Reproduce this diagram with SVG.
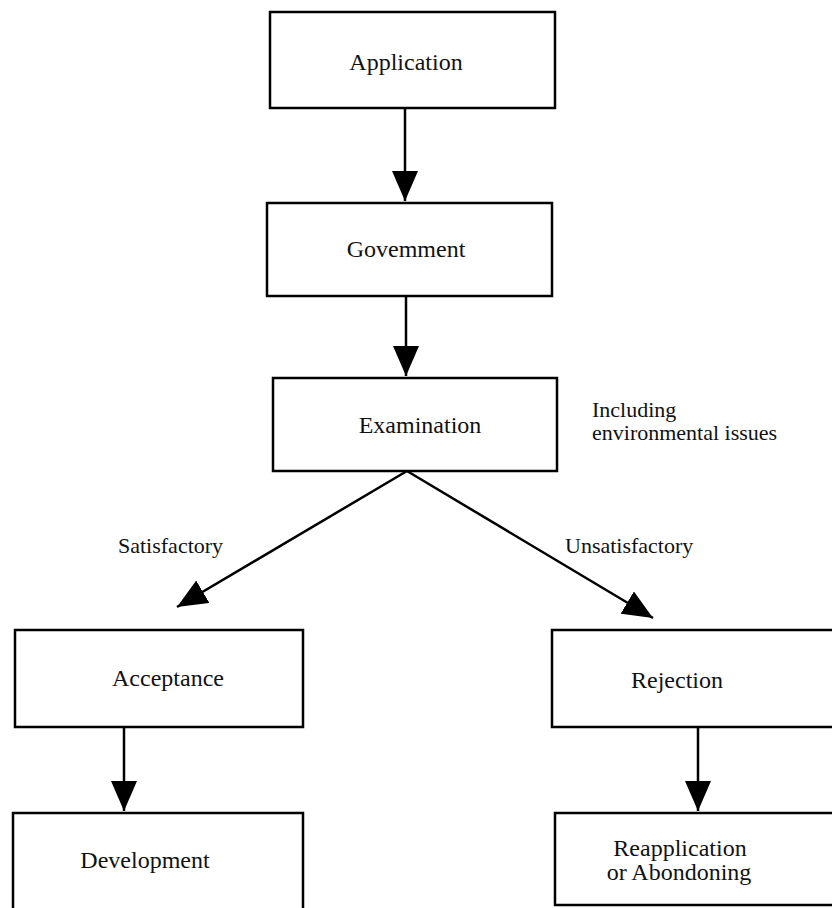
<svg xmlns="http://www.w3.org/2000/svg" width="832" height="908" viewBox="0 0 832 908">
<style>
.box{fill:none;stroke:#000;stroke-width:2.5}
.t{font-family:"Liberation Serif","Times New Roman",serif;font-size:24px;fill:#111;text-anchor:middle}
.lbl{font-family:"Liberation Serif","Times New Roman",serif;font-size:22px;fill:#111}
.c{fill:none;stroke:#000;stroke-width:2.5}
</style>
<defs>
<marker id="ah" markerUnits="userSpaceOnUse" markerWidth="30" markerHeight="26" viewBox="0 0 30 26" refX="30" refY="13" orient="auto">
<path d="M0,0 L30,13 L0,26 z" fill="#000"/>
</marker>
</defs>
<rect width="832" height="908" fill="#fff"/>
<g id="application"><rect class="box" x="270" y="12" width="285" height="96"/><text class="t" x="406" y="70">Application</text></g>
<g id="government"><rect class="box" x="267" y="203" width="285" height="93"/><text class="t" x="406" y="257">Govemment</text></g>
<g id="examination"><rect class="box" x="273" y="378" width="284" height="93"/><text class="t" x="420" y="433">Examination</text></g>
<g id="note"><text class="lbl" x="592" y="417">Including</text><text class="lbl" x="592" y="440">environmental issues</text></g>
<g id="acceptance"><rect class="box" x="15" y="630" width="288" height="97"/><text class="t" x="168" y="686">Acceptance</text></g>
<g id="rejection"><rect class="box" x="552" y="630" width="290" height="97"/><text class="t" x="677" y="688">Rejection</text></g>
<g id="development"><rect class="box" x="13" y="813" width="290" height="100"/><text class="t" x="145" y="868">Development</text></g>
<g id="reapplication"><rect class="box" x="555" y="813" width="290" height="92"/><text class="t" x="680" y="856">Reapplication</text><text class="t" x="679" y="880">or Abondoning</text></g>
<g id="connectors">
<line class="c" x1="405" y1="108" x2="405" y2="201" marker-end="url(#ah)"/>
<line class="c" x1="406" y1="296" x2="406" y2="376" marker-end="url(#ah)"/>
<line class="c" x1="407" y1="471" x2="177" y2="607" marker-end="url(#ah)"/>
<line class="c" x1="407" y1="471" x2="653" y2="618" marker-end="url(#ah)"/>
<line class="c" x1="124" y1="727" x2="124" y2="811" marker-end="url(#ah)"/>
<line class="c" x1="698" y1="727" x2="698" y2="811" marker-end="url(#ah)"/>
<text class="lbl" x="118" y="553">Satisfactory</text>
<text class="lbl" x="565" y="553">Unsatisfactory</text>
</g>
</svg>
